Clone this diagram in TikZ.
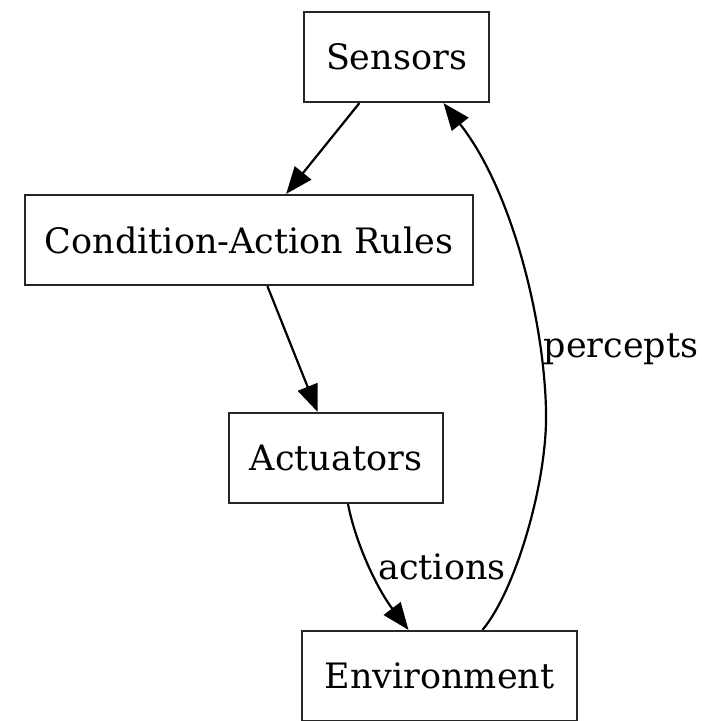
\documentclass[tikz,border=0pt]{standalone}
\usepackage{fontspec}
\setmainfont{DejaVu Serif}
\usetikzlibrary{arrows.meta,calc}
\begin{document}
\begin{tikzpicture}[x=1pt,y=-1pt,
  box/.style={draw=black!85,line width=2.2pt,inner sep=0pt,font=\fontsize{35}{40}\selectfont},
  edge/.style={line width=2.2pt,-{Triangle[length=27pt,width=21pt]}},
  lbl/.style={font=\fontsize{35}{40}\selectfont,inner sep=0pt}]
\useasboundingbox (0,0) rectangle (702,721);
\node[box,minimum width=185pt,minimum height=90pt] (s) at (396.5,57) {Sensors};
\node[box,minimum width=448pt,minimum height=90pt] (c) at (249,240) {Condition-Action Rules};
\node[box,minimum width=214pt,minimum height=90pt] (a) at (336,458) {Actuators};
\node[box,minimum width=275pt,minimum height=90pt] (e) at (439.5,676) {Environment};
\draw[edge] (s) -- (c);
\draw[edge] (c) -- (a);
\draw[edge] ($(a.south)+(12,0)$) .. controls (356,545) and (378,590) .. ($(e.north)+(-31,0)$);
\draw[edge] ($(e.north)+(43,0)$) .. controls (516,590) and (548,480) .. (546,410)
  .. controls (544,320) and (512,190) .. ($(s.south)+(47,0)$);
\node[lbl] (act) at (442,567) {actions};
\node[lbl] (per) at (621,349) {percepts};
\end{tikzpicture}
\end{document}
